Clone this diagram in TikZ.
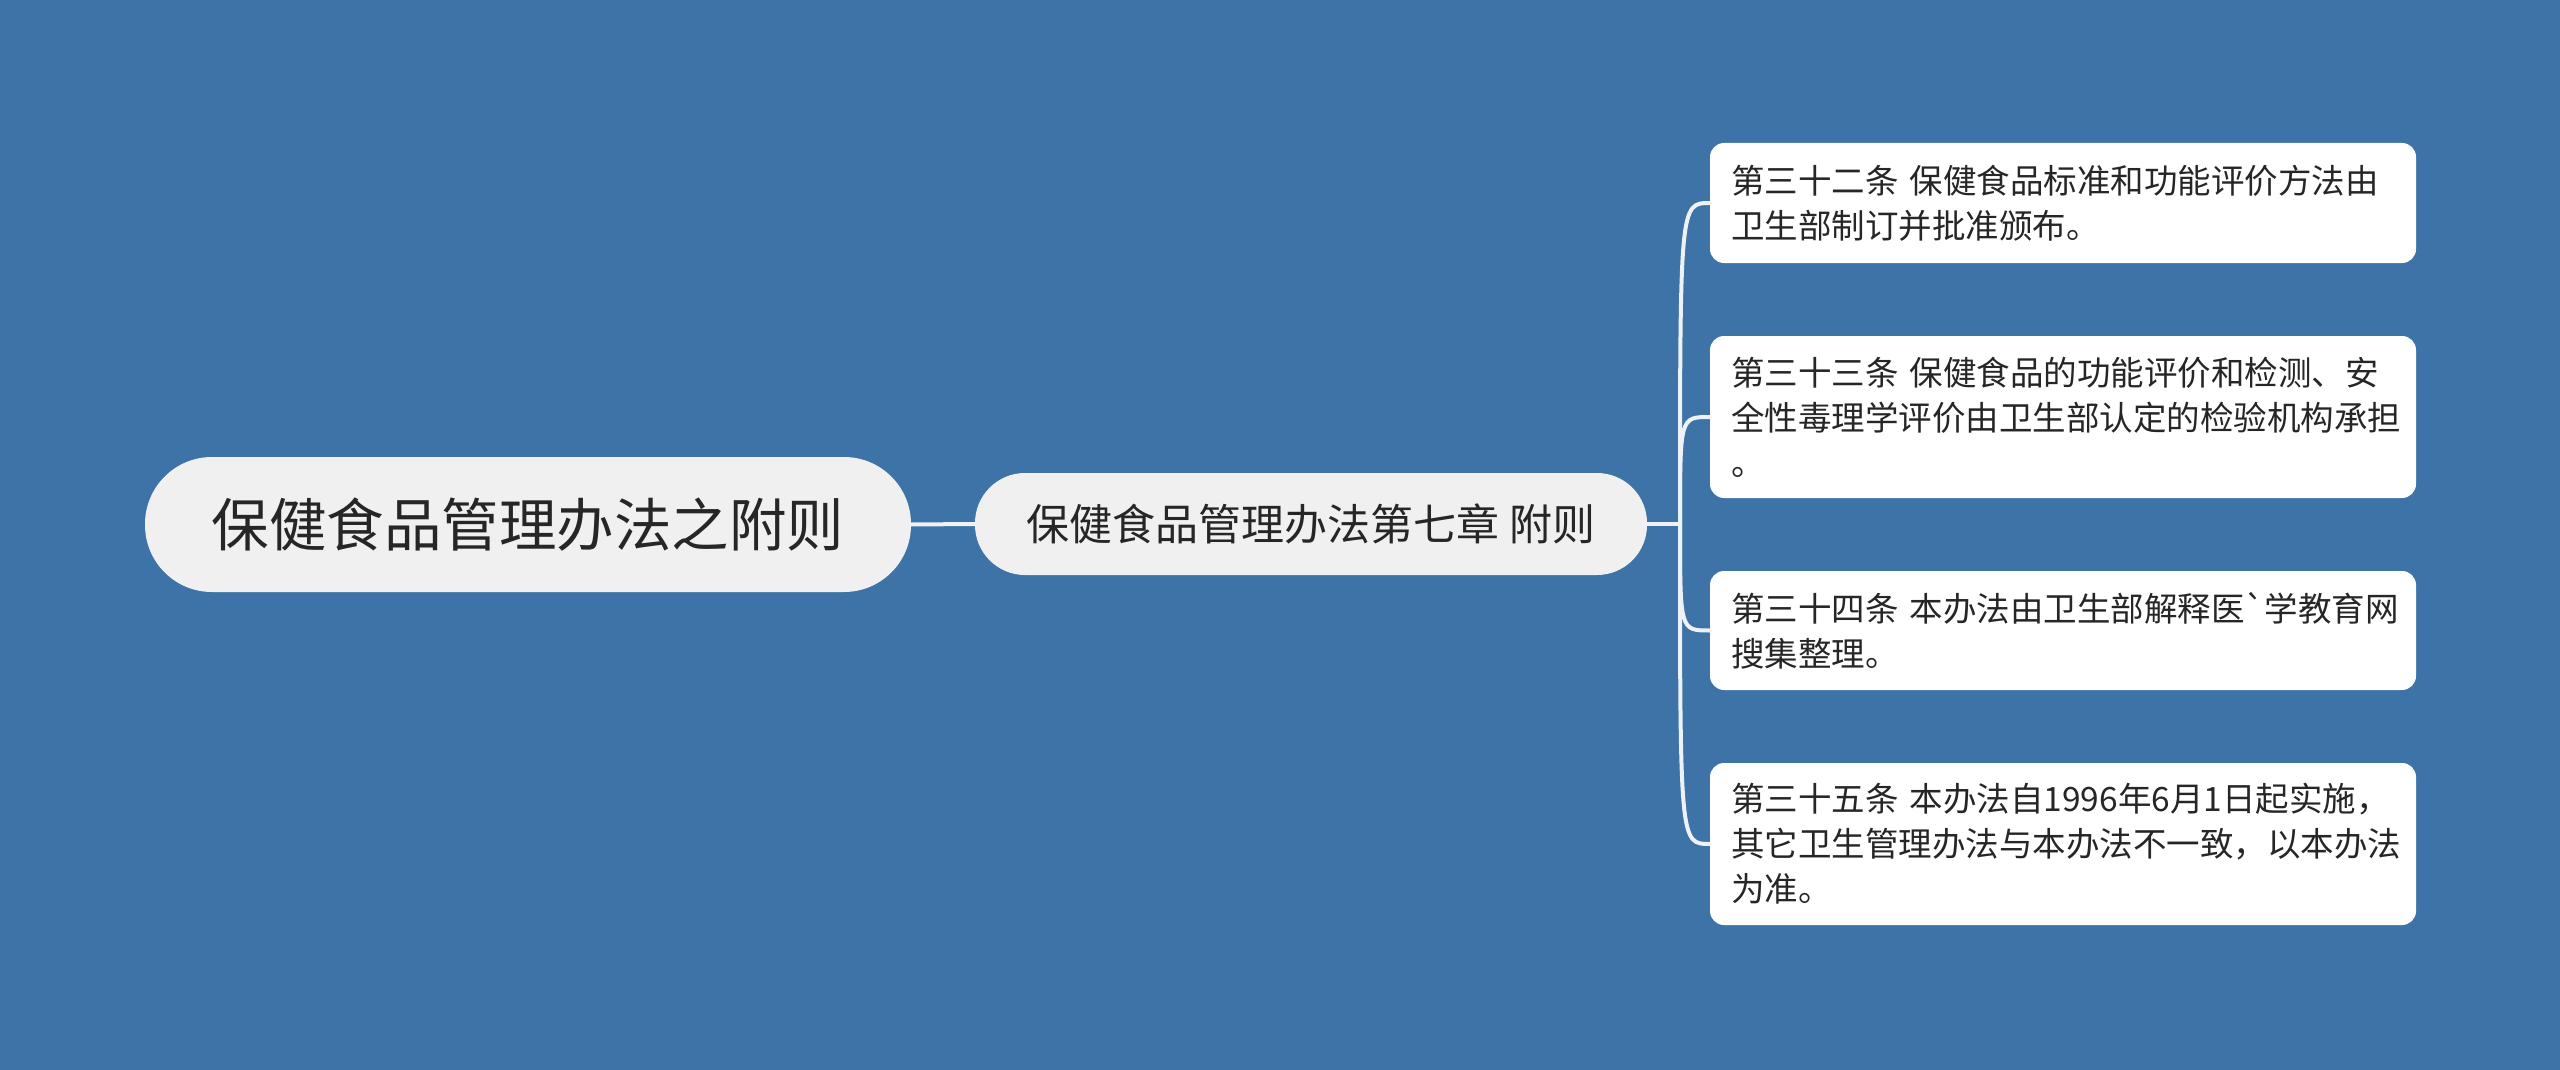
\documentclass[tikz,border=0pt]{standalone}
\usepackage{fontspec}
\newfontfamily\cjk{Noto Sans CJK SC}
\definecolor{bg}{RGB}{61,115,166}
\definecolor{nodegray}{RGB}{240,240,240}
\definecolor{txt}{RGB}{38,38,38}
\definecolor{linec}{RGB}{238,241,245}
\begin{document}
\begin{tikzpicture}[x=1pt,y=-1pt,
  rootbox/.style={fill=nodegray, rounded corners=67pt, minimum width=766pt, minimum height=135pt,
    font=\cjk\fontsize{57.5}{66}\selectfont, text=txt, inner sep=0pt},
  subbox/.style={fill=nodegray, rounded corners=50pt, minimum width=672pt, minimum height=102pt,
    font=\cjk\fontsize{43}{50}\selectfont, text=txt, inner sep=0pt},
  leafbox/.style={fill=white, rounded corners=14pt, minimum width=706pt, text width=664pt,
    inner xsep=21pt, inner ysep=0pt, align=left,
    font=\cjk\fontsize{33.5}{45}\selectfont, text=txt},
  conn/.style={draw=linec, line width=4pt, line cap=round}
]
\useasboundingbox (0,0) rectangle (2560,1070);
\fill[bg] (0,0) rectangle (2560,1070);

\node[rootbox] (root) at (528,524.5) {保健食品管理办法之附则};
\node[subbox] (sub) at (1311,524) {保健食品管理办法第七章 附则};

\node[leafbox, minimum height=120pt] (b1) at (2063,203)
  {第三十二条 保健食品标准和功能评价方法由\\卫生部制订并批准颁布。};
\node[leafbox, minimum height=162pt] (b2) at (2063,417)
  {第三十三条 保健食品的功能评价和检测、安\\全性毒理学评价由卫生部认定的检验机构承担\\。};
\node[leafbox, minimum height=119pt] (b3) at (2063,630.5)
  {第三十四条 本办法由卫生部解释医`学教育网\\搜集整理。};
\node[leafbox, minimum height=162pt] (b4) at (2063,844)
  {第三十五条 本办法自1996年6月1日起实施，\\其它卫生管理办法与本办法不一致，以本办法\\为准。};

\coordinate (fork) at (1680,524);

\draw[conn] (root.east) -- (sub.west);
\draw[conn] (sub.east) -- (fork);
\draw[conn] (fork) .. controls (fork |- b1.west) .. (b1.west);
\draw[conn] (fork) .. controls (fork |- b2.west) .. (b2.west);
\draw[conn] (fork) .. controls (fork |- b3.west) .. (b3.west);
\draw[conn] (fork) .. controls (fork |- b4.west) .. (b4.west);
\end{tikzpicture}
\end{document}
